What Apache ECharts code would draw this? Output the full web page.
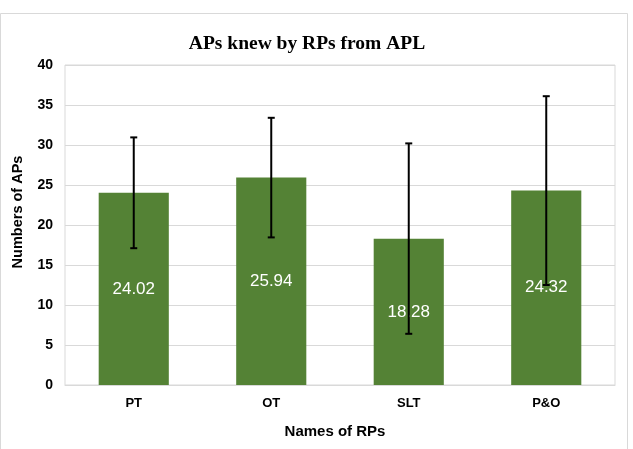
<!DOCTYPE html>
<html><head><meta charset="utf-8">
<script src="https://cdn.jsdelivr.net/npm/echarts@6/dist/echarts.min.js"></script>
<style>html,body{margin:0;padding:0;background:#fff}#c{width:633px;height:449px}</style>
</head><body><div id="c"></div>
<script>
const categories = ['PT', 'OT', 'SLT', 'P&O'];
const means = [24.02, 25.94, 18.28, 24.32];
const errLow = [17.1, 18.45, 6.4, 12.5];
const errHigh = [30.95, 33.4, 30.2, 36.1];
const yTicks = [0, 5, 10, 15, 20, 25, 30, 35, 40];

const chart = echarts.init(document.getElementById('c'));
const errData = categories.map((c, i) => [i, errLow[i], errHigh[i]]);
chart.setOption({
  animation: false,
  graphic: [{
    type: 'rect', shape: {x: 0.5, y: 13.5, width: 627, height: 440},
    style: {fill: 'none', stroke: '#d9d9d9', lineWidth: 1}, silent: true, z: -1
  }],
  title: {
    text: 'APs knew by RPs from APL', left: 302, top: 29, textAlign: 'center',
    textStyle: {fontFamily: 'Liberation Serif', fontWeight: 'bold', fontSize: 19.5, color: '#000'}
  },
  grid: {left: 65, right: 18, top: 65, bottom: 64, show: true, borderColor: '#d9d9d9', borderWidth: 1},
  xAxis: {
    type: 'category', data: categories,
    name: 'Names of RPs', nameLocation: 'middle', nameGap: 39,
    nameTextStyle: {fontFamily: 'Liberation Sans', fontWeight: 'bold', fontSize: 15, color: '#000', padding: [0, 10, 0, 0]},
    axisLine: {show: true, lineStyle: {color: '#d9d9d9'}},
    axisTick: {show: false},
    axisLabel: {fontFamily: 'Liberation Sans', fontWeight: 'bold', fontSize: 13, color: '#000', margin: 12}
  },
  yAxis: {
    type: 'value', min: 0, max: 40, interval: 5,
    name: 'Numbers of APs', nameLocation: 'middle', nameGap: 40, nameRotate: 90,
    nameTextStyle: {fontFamily: 'Liberation Sans', fontWeight: 'bold', fontSize: 14.5, color: '#000', padding: [0, 0, 0, 26]},
    axisLine: {show: false}, axisTick: {show: false},
    splitLine: {lineStyle: {color: '#d9d9d9', width: 1}},
    axisLabel: {fontFamily: 'Liberation Sans', fontWeight: 'bold', fontSize: 14, color: '#000', margin: 12,
      formatter: v => yTicks.includes(v) ? String(v) : ''}
  },
  series: [{
    type: 'bar', data: means, barWidth: '51%',
    itemStyle: {color: '#548235'},
    label: {show: true, position: 'inside', color: '#fff', fontFamily: 'Liberation Sans', fontSize: 17,
      formatter: p => p.value.toFixed(2)},
    z: 2
  }, {
    type: 'custom', data: errData, z: 5,
    renderItem: (params, api) => {
      const x = api.value(0);
      const lo = api.coord([x, api.value(1)]);
      const hi = api.coord([x, api.value(2)]);
      const cap = 3.5;
      const st = {stroke: '#000', lineWidth: 2};
      return {type: 'group', children: [
        {type: 'line', shape: {x1: lo[0], y1: lo[1], x2: hi[0], y2: hi[1]}, style: st},
        {type: 'line', shape: {x1: lo[0]-cap, y1: lo[1], x2: lo[0]+cap, y2: lo[1]}, style: st},
        {type: 'line', shape: {x1: hi[0]-cap, y1: hi[1], x2: hi[0]+cap, y2: hi[1]}, style: st}
      ]};
    }
  }]
});
</script></body></html>
